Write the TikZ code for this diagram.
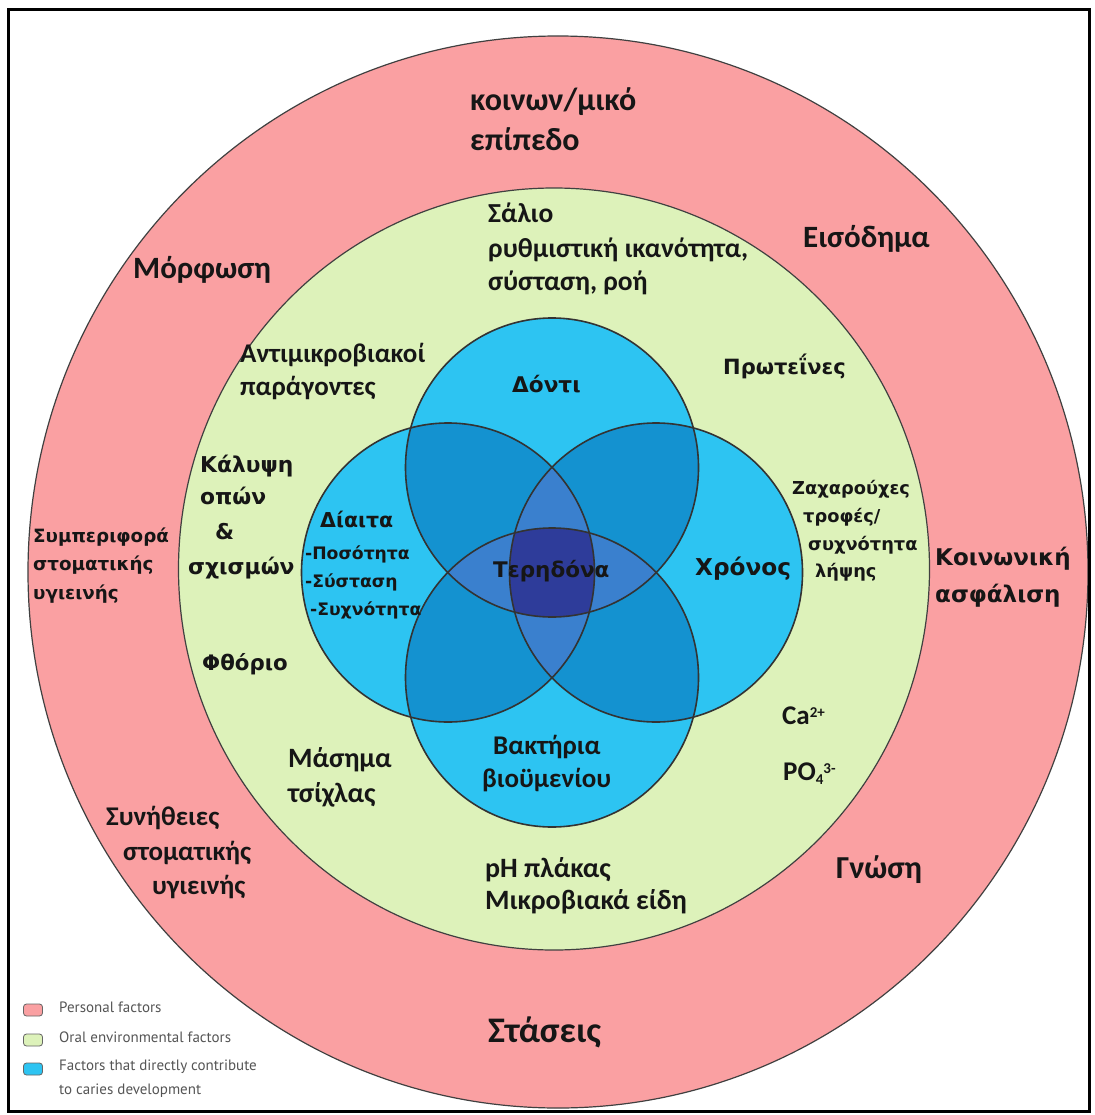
\documentclass[tikz,border=0pt]{standalone}
\usepackage{fontspec}
\newfontfamily\cfont{Carlito}
\newfontfamily\vfont{DejaVu Sans}
\newfontfamily\lfont{PT Sans}
\definecolor{pinkc}{RGB}{250,160,162}
\definecolor{greenc}{RGB}{221,242,186}
\definecolor{blueA}{RGB}{45,196,242}
\definecolor{blueB}{RGB}{20,146,208}
\definecolor{blueC}{RGB}{58,128,206}
\definecolor{blueD}{RGB}{46,60,154}
\definecolor{txt}{RGB}{22,22,22}
\definecolor{legtxt}{RGB}{85,85,85}
\tikzset{
  cb/.style={font=\cfont\bfseries\fontsize{#1}{#1}\selectfont, anchor=mid west, inner sep=0pt, text=txt},
  vb/.style={font=\vfont\bfseries\fontsize{#1}{#1}\selectfont, anchor=mid west, inner sep=0pt, text=txt},
  legt/.style={font=\lfont\fontsize{15}{15}\selectfont, anchor=mid west, inner sep=0pt, text=legtxt},
  swatch/.style={draw=gray!80!black, line width=0.8pt, rounded corners=3pt, minimum width=19pt, minimum height=12pt, inner sep=0pt},
  ring/.style={draw=black!75, line width=1.2pt},
  bcirc/.style={draw=black!80, line width=1.6pt},
  bx/.style={x radius=146.5pt, y radius=149.5pt},
}
\begin{document}
\begin{tikzpicture}[x=1pt,y=-1pt]
\useasboundingbox (0,0) rectangle (1094,1115);
\fill[white] (0,0) rectangle (1094,1115);
% rings
\coordinate (PC) at (558,572);
\coordinate (GC) at (554,569);
\filldraw[fill=pinkc, ring] (PC) ellipse [x radius=530pt, y radius=536pt];
\filldraw[fill=greenc, ring] (GC) ellipse [x radius=375.5pt, y radius=381pt];
% blue circles
\coordinate (T) at (552,467.5);
\coordinate (B) at (552,677.5);
\coordinate (L) at (448,572.5);
\coordinate (R) at (656,572.5);
\foreach \c in {T,B,L,R} { \fill[blueA] (\c) ellipse [bx]; }
\foreach \a/\b in {T/L,T/R,B/L,B/R,T/B,L/R} {
  \begin{scope}
    \clip (\a) ellipse [bx];
    \fill[blueB] (\b) ellipse [bx];
  \end{scope}
}
\foreach \a/\b/\c in {T/L/R,T/L/B,T/R/B,L/R/B} {
  \begin{scope}
    \clip (\a) ellipse [bx];
    \clip (\b) ellipse [bx];
    \fill[blueC] (\c) ellipse [bx];
  \end{scope}
}
\begin{scope}
  \clip (T) ellipse [bx];
  \clip (B) ellipse [bx];
  \clip (L) ellipse [bx];
  \fill[blueD] (R) ellipse [bx];
\end{scope}
\foreach \c in {T,B,L,R} { \draw[bcirc] (\c) ellipse [bx]; }
% border
\draw[line width=3pt] (8,10) rectangle (1089,1111);
% pink ring texts
\node[cb=32] (k1) at (470,108) {κοινων/μικό};
\node[cb=32] (k2) at (470,148) {επίπεδο};
\node[cb=31] (eis) at (803,245) {Εισόδημα};
\node[cb=31] (mor) at (133,276) {Μόρφωση};
\node[vb=18.3] (sym1) at (33,540) {Συμπεριφορά};
\node[vb=18.3] (sym2) at (33,568) {στοματικής};
\node[vb=18.3] (sym3) at (33,597) {υγιεινής};
\node[vb=23] (koi1) at (935,563) {Κοινωνική};
\node[vb=23] (koi2) at (935,600) {ασφάλιση};
\node[cb=27] (syn1) at (106,823) {Συνήθειες};
\node[cb=27] (syn2) at (123,858) {στοματικής};
\node[cb=27] (syn3) at (152,892) {υγιεινής};
\node[cb=32] (gno) at (836,876) {Γνώση};
\node[cb=36] (sta) at (488,1040) {Στάσεις};
% green ring texts
\node[cb=27.5] (sal1) at (488,220) {Σάλιο};
\node[cb=27.5] (sal2) at (488,255) {ρυθμιστική ικανότητα,};
\node[cb=27.5] (sal3) at (488,288) {σύσταση, ροή};
\node[cb=27] (ant1) at (240,360) {Αντιμικροβιακοί};
\node[cb=27] (ant2) at (240,393) {παράγοντες};
\node[vb=21] (pro) at (723,372) {Πρωτεΐνες};
\node[vb=21.8] (kal1) at (200,470) {Κάλυψη};
\node[vb=21.8] (kal2) at (200,502) {οπών};
\node[vb=21.8] (kal3) at (215,537) {\&};
\node[vb=21.8] (kal4) at (188,572) {σχισμών};
\node[vb=21.3] (fth) at (202,668) {Φθόριο};
\node[vb=17.8] (zax1) at (792,492) {Ζαχαρούχες};
\node[vb=17.8] (zax2) at (803,520) {τροφές/};
\node[vb=17.8] (zax3) at (808,548) {συχνότητα};
\node[vb=17.8] (zax4) at (815,575) {λήψης};
\node[cb=27] (ca) at (782,722) {Ca\raisebox{7pt}{\fontsize{15}{15}\selectfont 2+}};
\node[cb=27] (po) at (783,778) {PO\raisebox{-4pt}{\fontsize{15}{15}\selectfont 4}\raisebox{7pt}{\fontsize{15}{15}\selectfont 3-}};
\node[cb=28] (mas1) at (288,765) {Μάσημα};
\node[cb=28] (mas2) at (288,800) {τσίχλας};
\node[cb=28] (ph1) at (485,875) {pH πλάκας};
\node[cb=28] (ph2) at (485,907) {Μικροβιακά είδη};
% blue texts
\node[vb=21.6] (don) at (512,390) {Δόντι};
\node[vb=20.5] (dia1) at (320,525) {Δίαιτα};
\node[vb=17.2] (dia2) at (305,557) {-Ποσότητα};
\node[vb=17.2] (dia3) at (305,585) {-Σύσταση};
\node[vb=17.2] (dia4) at (310,613) {-Συχνότητα};
\node[vb=21.5] (ter) at (493,575) {Τερηδόνα};
\node[vb=23.2] (xro) at (695,573) {Χρόνος};
\node[cb=27] (bak1) at (493,752) {Βακτήρια};
\node[cb=27] (bak2) at (482,785) {βιοϋμενίου};
% legend
\node[swatch, fill=pinkc] (sw1) at (33,1010) {};
\node[swatch, fill=greenc] (sw2) at (33,1040) {};
\node[swatch, fill=blueA] (sw3) at (33,1069) {};
\node[legt] (lg1) at (59,1010) {Personal factors};
\node[legt] (lg2) at (59,1040) {Oral environmental factors};
\node[legt] (lg3) at (59,1068) {Factors that directly contribute};
\node[legt] (lg4) at (59,1092) {to caries development};
\end{tikzpicture}
\end{document}
